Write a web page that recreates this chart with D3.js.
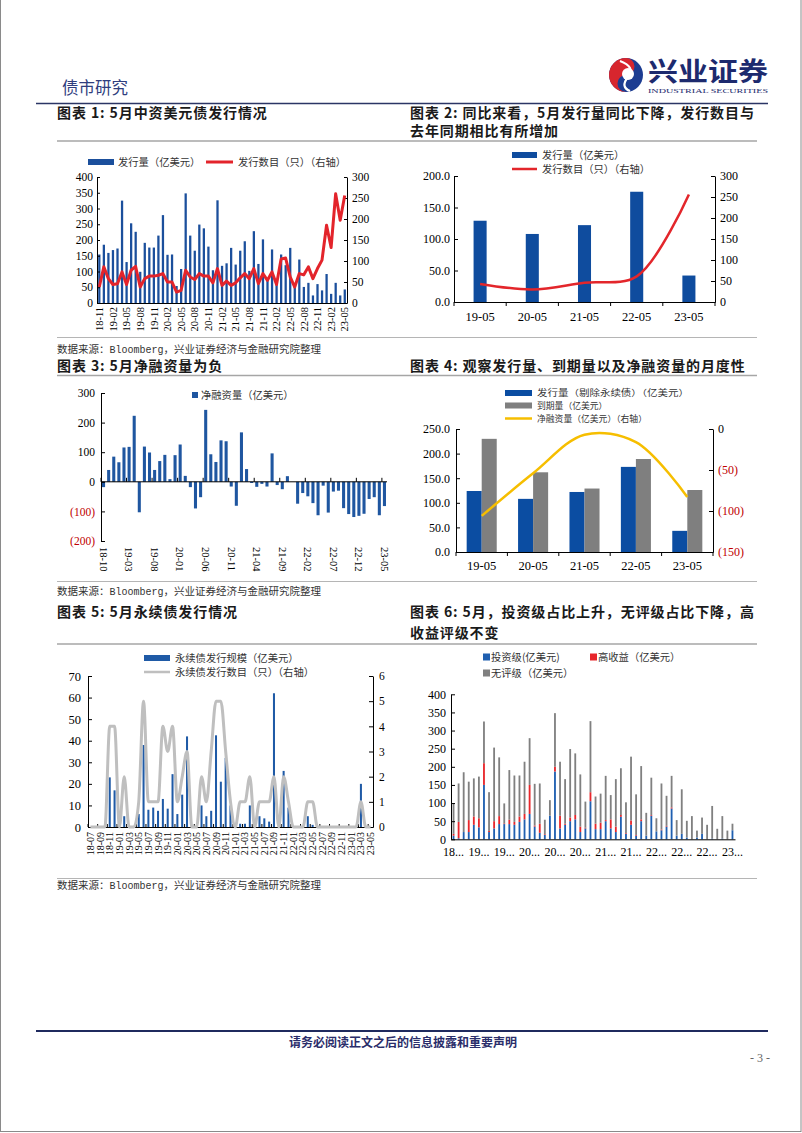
<!DOCTYPE html>
<html><head><meta charset="utf-8">
<script src="https://cdn.jsdelivr.net/npm/d3@7"></script>
<style>
body{margin:0;background:#fff;}
</style></head><body>
<svg id="page" width="802" height="1133" xmlns="http://www.w3.org/2000/svg"></svg>
<script>
// ---------------- DATA ----------------
const monthsAll = ["18-07","18-08","18-09","18-10","18-11","18-12",
 "19-01","19-02","19-03","19-04","19-05","19-06","19-07","19-08","19-09","19-10","19-11","19-12",
 "20-01","20-02","20-03","20-04","20-05","20-06","20-07","20-08","20-09","20-10","20-11","20-12",
 "21-01","21-02","21-03","21-04","21-05","21-06","21-07","21-08","21-09","21-10","21-11","21-12",
 "22-01","22-02","22-03","22-04","22-05","22-06","22-07","22-08","22-09","22-10","22-11","22-12",
 "23-01","23-02","23-03","23-04","23-05"];
const months56 = monthsAll.slice(3);   // 18-10 .. 23-05
const months55 = monthsAll.slice(4);   // 18-11 .. 23-05

// Chart 1
const issue1 = [154,185,159,168,173,325,130,253,226,99,191,176,176,214,279,153,154,54,108,348,
 214,166,249,237,179,104,326,118,126,175,122,166,196,102,228,124,202,73,170,58,
 154,120,175,53,138,51,64,24,60,40,92,29,64,24,43];
const count1 = [38,86,58,44,46,74,44,78,87,38,58,64,64,66,70,50,50,26,30,78,
 62,56,70,64,64,48,82,42,52,42,48,60,70,58,82,46,70,54,74,44,
 105,107,62,38,70,67,86,58,82,102,185,132,260,197,256];
const xTicks1 = ["18-11","19-02","19-05","19-08","19-11","20-02","20-05","20-08","20-11","21-02",
 "21-05","21-08","21-11","22-02","22-05","22-08","22-11","23-02","23-05"];
const yTicks1L = [0,50,100,150,200,250,300,350,400];
const yTicks1R = [0,50,100,150,200,250,300];

// Chart 2
const years = ["19-05","20-05","21-05","22-05","23-05"];
const issue2 = [129,108,122,175,42];
const count2 = [43,30,46,61,256];
const yTicks2L = [0,50,100,150,200];
const yTicks2R = [0,50,100,150,200,250,300];

// Chart 3
const net3 = [-18,40,85,66,116,118,223,-103,119,99,40,70,91,9,90,126,20,-18,-90,-52,
 243,93,67,140,137,-16,-81,167,43,-4,-17,-7,-16,96,-11,-25,19,0,-74,-38,
 -49,-72,-113,-13,-104,-33,-30,-89,-109,-119,-115,-108,-58,-52,-113,-82];
const xTicks3 = ["18-10","19-03","19-08","20-01","20-06","20-11","21-04","21-09","22-02","22-07","22-12","23-05"];
const yTicks3 = [-200,-100,0,100,200,300];

// Chart 4
const issue4 = [124,108,122,173,43];
const mature4 = [230,162,129,189,126];
const net4 = [-106,-54,-7,-16,-83];
const yTicks4L = [0,50,100,150,200,250];
const yTicks4R = [-150,-100,-50,0];

// Chart 5
const perpAmt = [0,0,0,0,23,17,0,5,0,0, 6,38,8,9,7.5,13,8.5,24.5,6,15,
 42,0,0,10,5,7.5,42.5,21,32,10, 0,1.5,1.5,10,0,5,4,2.5,62,0,
 26,9,0,0,0,5,1,0,0,0, 0,0,0,0,0,0,20,0,0];
const perpCnt = [0,0,0,0,4,4,0,2,0,0, 1,5,1,1,1,4,3,4,1,2,
 3,0,0,2,1,3,5,5,3,1, 0,1,1,2,0,1,1,1,2,0,
 2,1,0,0,0,1,1,0,0,0, 0,0,0,0,0,0,1,0,0];
const xTicks5 = ["18-07","18-09","18-11","19-01","19-03","19-05","19-07","19-09","19-11","20-01",
 "20-03","20-05","20-07","20-09","20-11","21-01","21-03","21-05","21-07","21-09",
 "21-11","22-01","22-03","22-05","22-07","22-09","22-11","23-01","23-03","23-05"];
const yTicks5L = [0,10,20,30,40,50,60,70];
const yTicks5R = [0,1,2,3,4,5,6];

// Chart 6
const ig6 = [10,3,20,20,40,33,150,20,30,42, 42,42,40,48,55,70,35,18,12,65,
 187,30,40,50,55,20,30,105,28,28, 50,30,20,62,15,40,10,50,10,65,
 22,25,35,85,10,15,5,0,5,15, 0,2,0,2,0,25];
const hy6 = [5,45,0,33,23,25,60,3,20,22, 2,12,8,15,15,80,3,25,2,0,
 13,35,3,10,12,15,2,25,15,18, 3,25,15,5,2,12,2,5,0,2,
 0,2,2,3,0,0,0,0,0,0, 0,0,0,0,0,0];
const nr6 = [84,106,165,106,105,115,115,107,203,162, 55,137,128,113,144,129,115,111,40,43,
 148,149,123,189,170,144,72,196,75,80, 122,67,131,129,85,176,112,147,63,103,
 36,127,83,87,43,123,46,64,19,45, 40,90,29,62,24,18];
const yTicks6 = [0,50,100,150,200,250,300,350,400];

// ---------------- STYLE ----------------
const SERIF = '"Liberation Serif","Times New Roman",serif';
const CJK = '"Noto Sans CJK SC","Noto Sans",sans-serif';
const MONO = '"Liberation Mono",monospace';
const NEG = "#C00000";

const svg = d3.select("#page");

function styleAxis(g, fs, colorFn) {
  g.attr("font-family", null).attr("font-size", null);
  g.select(".domain").attr("stroke", "#000").attr("stroke-width", 1);
  g.selectAll(".tick line").attr("stroke", "#000");
  g.selectAll(".tick text").attr("font-family", SERIF).attr("font-size", fs)
    .attr("fill", colorFn || "#000");
}
function txt(x, y, s, opt = {}) {
  const t = svg.append("text").attr("x", x).attr("y", y).text(s)
    .attr("font-family", opt.ff || CJK).attr("font-size", opt.fs || 10.3)
    .attr("fill", opt.fill || "#333");
  if (opt.fw) t.attr("font-weight", opt.fw);
  if (opt.ls) t.attr("letter-spacing", opt.ls);
  if (opt.anchor) t.attr("text-anchor", opt.anchor);
  if (opt.tl) t.attr("textLength", opt.tl).attr("lengthAdjust", "spacingAndGlyphs");
  return t;
}
function hline(x1, x2, y, color, w) {
  svg.append("line").attr("x1", x1).attr("x2", x2).attr("y1", y).attr("y2", y)
    .attr("stroke", color).attr("stroke-width", w);
}
function legRect(x, y, w, h, color) {
  svg.append("rect").attr("x", x).attr("y", y - h / 2).attr("width", w).attr("height", h).attr("fill", color);
}
function legLine(x, y, w, color, sw) {
  svg.append("line").attr("x1", x).attr("x2", x + w).attr("y1", y).attr("y2", y)
    .attr("stroke", color).attr("stroke-width", sw);
}

// ---------------- PAGE ----------------
svg.append("rect").attr("x", 0.5).attr("y", -3).attr("width", 800.5).attr("height", 1134.5)
  .attr("fill", "none").attr("stroke", "#8a8a8a").attr("stroke-width", 1);

txt(62, 94, "债市研究", {fs: 16.5, fill: "#2f3e7e"});
// logo
{
  const cx = 626, cy = 75, r = 17;
  const lg = svg.append("g");
  lg.append("circle").attr("cx", cx).attr("cy", cy).attr("r", r).attr("fill", "#1d3d92");
  lg.append("path").attr("d", `M${cx},${cy - r} A${r},${r} 0 0,0 ${cx},${cy + r} A${r / 2},${r / 2} 0 0,1 ${cx},${cy} A${r / 2},${r / 2} 0 0,0 ${cx},${cy - r}Z`)
    .attr("fill", "#d7262e");
  lg.append("circle").attr("cx", cx + 2).attr("cy", cy - 1).attr("r", 6).attr("fill", "#fff");
  lg.append("path").attr("d", `M${cx - 6},${cy - 14} Q${cx + 10},${cy - 8} ${cx + 2},${cy + 2} T${cx + 4},${cy + 16}`)
    .attr("fill", "none").attr("stroke", "#fff").attr("stroke-width", 2.2);
}
txt(648, 81, "兴业证券", {fs: 26, fw: "bold", fill: "#1d2a6e", tl: 120});
txt(648, 93, "INDUSTRIAL SECURITIES", {ff: SERIF, fs: 7, fill: "#1d2a6e", tl: 120});
hline(36, 768, 103.5, "#2b3565", 1.6);

// titles
const TT = {fs: 14, fw: "bold", fill: "#1a1a1a", ls: 0.9};
txt(57, 118, "图表 1: 5月中资美元债发行情况", TT);
txt(410, 118, "图表 2: 同比来看，5月发行量同比下降，发行数目与", TT);
txt(410, 136, "去年同期相比有所增加", TT);
hline(57, 757, 141, "#a6a6a6", 1.6);
txt(57, 371, "图表 3: 5月净融资量为负", TT);
txt(410, 371, "图表 4: 观察发行量、到期量以及净融资量的月度性", TT);
hline(57, 757, 375.5, "#a6a6a6", 1.6);
txt(57, 617, "图表 5: 5月永续债发行情况", TT);
txt(410, 617, "图表 6: 5月，投资级占比上升，无评级占比下降，高", TT);
txt(410, 638, "收益评级不变", TT);
hline(57, 757, 644, "#a6a6a6", 1.6);

// data sources
function source(y, ly) {
  hline(57, 757, ly, "#b5b5b5", 1);
  const t = svg.append("text").attr("x", 57).attr("y", y).attr("font-size", 10.5).attr("fill", "#333").attr("font-family", CJK);
  t.append("tspan").text("数据来源：");
  t.append("tspan").attr("font-family", MONO).attr("font-size", 10).text("Bloomberg");
  t.append("tspan").text("，兴业证券经济与金融研究院整理");
}
source(353, 337.5);
source(595, 581.5);
source(889, 878.5);

// footer
hline(36, 768, 1031, "#1f2a5e", 2);
txt(403, 1047, "请务必阅读正文之后的信息披露和重要声明", {fs: 12, fw: "bold", fill: "#2a2d6a", anchor: "middle"});
txt(770, 1062, "- 3 -", {ff: SERIF, fs: 12, fill: "#666", anchor: "end"});

// ---------------- CHART 1 ----------------
{
  const x = d3.scaleBand().domain(months55).range([97, 347]);
  const bw = x.bandwidth();
  const yL = d3.scaleLinear().domain([0, 400]).range([303, 177]);
  const yR = d3.scaleLinear().domain([0, 300]).range([303, 177]);
  const g = svg.append("g");
  g.selectAll("rect").data(issue1).join("rect")
    .attr("x", (d, i) => x(months55[i]) + bw * 0.26).attr("width", bw * 0.5)
    .attr("y", d => yL(d)).attr("height", d => yL(0) - yL(d)).attr("fill", "#1b4f9c");
  const aL = svg.append("g").attr("transform", "translate(97,0)")
    .call(d3.axisLeft(yL).tickValues(yTicks1L).tickSize(-3).tickSizeOuter(0).tickPadding(4));
  styleAxis(aL, 11.5);
  const aR = svg.append("g").attr("transform", "translate(347,0)")
    .call(d3.axisRight(yR).tickValues(yTicks1R).tickSize(-3).tickSizeOuter(0).tickPadding(5));
  styleAxis(aR, 11.5);
  const aB = svg.append("g").attr("transform", "translate(0,303)")
    .call(d3.axisBottom(x).tickValues(xTicks1).tickSize(0).tickSizeOuter(0));
  styleAxis(aB, 10.5);
  aB.selectAll(".tick text").attr("transform", "rotate(-90)").attr("text-anchor", "end")
    .attr("x", -4).attr("y", 0).attr("dy", "0.35em");
  svg.append("path").datum(count1)
    .attr("d", d3.line().x((d, i) => x(months55[i]) + bw / 2).y(d => yR(d)))
    .attr("fill", "none").attr("stroke", "#e3242b").attr("stroke-width", 3).attr("stroke-linejoin", "round");
  legRect(88, 162, 26, 6, "#1b4f9c");
  txt(118, 166, "发行量（亿美元）");
  legLine(206, 162, 27, "#e3242b", 3);
  txt(238, 166, "发行数目（只）（右轴）");
}

// ---------------- CHART 2 ----------------
{
  const x = d3.scaleBand().domain(years).range([454, 715]);
  const bw = x.bandwidth();
  const yL = d3.scaleLinear().domain([0, 200]).range([302, 176]);
  const yR = d3.scaleLinear().domain([0, 300]).range([302, 176]);
  svg.append("g").selectAll("rect").data(issue2).join("rect")
    .attr("x", (d, i) => x(years[i]) + bw * 0.375).attr("width", bw * 0.25)
    .attr("y", d => yL(d)).attr("height", d => yL(0) - yL(d)).attr("fill", "#0f4c9e");
  const aL = svg.append("g").attr("transform", "translate(454,0)")
    .call(d3.axisLeft(yL).tickValues(yTicks2L).tickFormat(d3.format(".1f")).tickSize(-4).tickSizeOuter(0).tickPadding(4));
  styleAxis(aL, 12);
  const aR = svg.append("g").attr("transform", "translate(715,0)")
    .call(d3.axisRight(yR).tickValues(yTicks2R).tickSize(-4).tickSizeOuter(0).tickPadding(5));
  styleAxis(aR, 12);
  const aB = svg.append("g").attr("transform", "translate(0,302)")
    .call(d3.axisBottom(x).tickSize(0).tickSizeOuter(0).tickPadding(10));
  styleAxis(aB, 12.5);
  years.forEach(c => svg.append("line").attr("x1", x(c)).attr("x2", x(c)).attr("y1", 302).attr("y2", 306).attr("stroke", "#000"));
  svg.append("line").attr("x1", 715).attr("x2", 715).attr("y1", 302).attr("y2", 306).attr("stroke", "#000");
  svg.append("path").datum(count2)
    .attr("d", d3.line().curve(d3.curveCatmullRom).x((d, i) => x(years[i]) + bw / 2).y(d => yR(d)))
    .attr("fill", "none").attr("stroke", "#e3262b").attr("stroke-width", 2.5);
  legRect(512, 155, 25, 6, "#0f4c9e");
  txt(542, 159, "发行量（亿美元）");
  legLine(512, 169, 25, "#e3262b", 2.5);
  txt(542, 173, "发行数目（只）（右轴）");
}

// ---------------- CHART 3 ----------------
{
  const x = d3.scaleBand().domain(months56).range([101, 387]);
  const bw = x.bandwidth();
  const y = d3.scaleLinear().domain([-200, 300]).range([541, 393]);
  svg.append("g").selectAll("rect").data(net3).join("rect")
    .attr("x", (d, i) => x(months56[i]) + bw * 0.2).attr("width", bw * 0.6)
    .attr("y", d => y(Math.max(0, d))).attr("height", d => Math.abs(y(d) - y(0))).attr("fill", "#1f56a0");
  const aL = svg.append("g").attr("transform", "translate(101,0)")
    .call(d3.axisLeft(y).tickValues(yTicks3).tickFormat(d => d < 0 ? `(${-d})` : d).tickSize(-4).tickSizeOuter(0).tickPadding(6));
  styleAxis(aL, 11.5, d => d < 0 ? NEG : "#000");
  svg.append("line").attr("x1", 101).attr("x2", 387).attr("y1", y(0)).attr("y2", y(0)).attr("stroke", "#000");
  xTicks3.forEach(c => svg.append("line").attr("x1", x(c)).attr("x2", x(c)).attr("y1", y(0)).attr("y2", y(0) - 4).attr("stroke", "#000"));
  const aB = svg.append("g").attr("transform", "translate(0,543)")
    .call(d3.axisBottom(x).tickValues(xTicks3).tickSize(0).tickSizeOuter(0));
  aB.select(".domain").remove();
  styleAxis(aB, 10.5);
  aB.selectAll(".tick text").attr("transform", "rotate(90)").attr("text-anchor", "start")
    .attr("x", 4).attr("y", 0).attr("dy", "0.35em");
  legRect(192, 395, 6, 6, "#1f56a0");
  txt(201, 399, "净融资量（亿美元）");
}

// ---------------- CHART 4 ----------------
{
  const x = d3.scaleBand().domain(years).range([456, 713]);
  const bw = x.bandwidth();
  const xi = d3.scaleBand().domain(["issue", "mature"]).range([0, bw]).paddingInner(0).paddingOuter(0.71);
  const yL = d3.scaleLinear().domain([0, 250]).range([552, 429]);
  const yR = d3.scaleLinear().domain([-150, 0]).range([552, 429]);
  const g = svg.append("g");
  g.selectAll("rect.i").data(issue4).join("rect").attr("class", "i")
    .attr("x", (d, i) => x(years[i]) + xi("issue")).attr("width", xi.bandwidth())
    .attr("y", d => yL(d)).attr("height", d => yL(0) - yL(d)).attr("fill", "#0b4da2");
  g.selectAll("rect.m").data(mature4).join("rect").attr("class", "m")
    .attr("x", (d, i) => x(years[i]) + xi("mature")).attr("width", xi.bandwidth())
    .attr("y", d => yL(d)).attr("height", d => yL(0) - yL(d)).attr("fill", "#7f7f7f");
  const aL = svg.append("g").attr("transform", "translate(456,0)")
    .call(d3.axisLeft(yL).tickValues(yTicks4L).tickFormat(d3.format(".1f")).tickSize(-4).tickSizeOuter(0).tickPadding(6));
  styleAxis(aL, 12);
  const aR = svg.append("g").attr("transform", "translate(713,0)")
    .call(d3.axisRight(yR).tickValues(yTicks4R).tickFormat(d => d < 0 ? `(${-d})` : d).tickSize(-4).tickSizeOuter(0).tickPadding(5));
  styleAxis(aR, 12, d => d < 0 ? NEG : "#000");
  const aB = svg.append("g").attr("transform", "translate(0,552)")
    .call(d3.axisBottom(x).tickSize(0).tickSizeOuter(0).tickPadding(9.5));
  styleAxis(aB, 12.5);
  years.forEach(c => svg.append("line").attr("x1", x(c)).attr("x2", x(c)).attr("y1", 552).attr("y2", 556).attr("stroke", "#000"));
  svg.append("line").attr("x1", 713).attr("x2", 713).attr("y1", 552).attr("y2", 556).attr("stroke", "#000");
  svg.append("path").datum(net4)
    .attr("d", d3.line().curve(d3.curveCatmullRom).x((d, i) => x(years[i]) + bw / 2).y(d => yR(d)))
    .attr("fill", "none").attr("stroke", "#f6be00").attr("stroke-width", 2.5);
  const LF = {fs: 8.8};
  legRect(505, 393, 27, 6, "#0b4da2");
  txt(537, 396.2, "发行量（剔除永续债）（亿美元）", {fs: 8.8, tl: 152});
  legRect(505, 405.5, 27, 6, "#7f7f7f");
  txt(537, 408.7, "到期量（亿美元）", LF);
  legLine(505, 418.5, 27, "#f6be00", 2.5);
  txt(537, 421.7, "净融资量（亿美元）（右轴）", LF);
}

// ---------------- CHART 5 ----------------
{
  const x = d3.scaleBand().domain(monthsAll).range([88, 373]);
  const bw = x.bandwidth();
  const yL = d3.scaleLinear().domain([0, 70]).range([827, 676]);
  const yR = d3.scaleLinear().domain([0, 6]).range([827, 676]);
  svg.append("g").selectAll("rect").data(perpAmt).join("rect")
    .attr("x", (d, i) => x(monthsAll[i]) + bw * 0.29).attr("width", bw * 0.42)
    .attr("y", d => yL(d)).attr("height", d => yL(0) - yL(d)).attr("fill", "#1f5aa6");
  const aL = svg.append("g").attr("transform", "translate(88,0)")
    .call(d3.axisLeft(yL).tickValues(yTicks5L).tickSize(-4).tickSizeOuter(0).tickPadding(7));
  styleAxis(aL, 12.5);
  const aR = svg.append("g").attr("transform", "translate(373,0)")
    .call(d3.axisRight(yR).tickValues(yTicks5R).tickFormat(d3.format("d")).tickSize(-4).tickSizeOuter(0).tickPadding(6));
  styleAxis(aR, 11.5);
  const aB = svg.append("g").attr("transform", "translate(0,827)")
    .call(d3.axisBottom(x).tickValues(xTicks5).tickSize(0).tickSizeOuter(0));
  styleAxis(aB, 10);
  aB.selectAll(".tick text").attr("transform", "rotate(-90)").attr("text-anchor", "end")
    .attr("x", -5).attr("y", 0).attr("dy", "0.35em");
  xTicks5.forEach(c => svg.append("line").attr("x1", x(c)).attr("x2", x(c)).attr("y1", 827).attr("y2", 824).attr("stroke", "#000"));
  svg.append("path").datum(perpCnt)
    .attr("d", d3.line().curve(d3.curveMonotoneX).x((d, i) => x(monthsAll[i]) + bw / 2).y(d => yR(d)))
    .attr("fill", "none").attr("stroke", "#bfbfbf").attr("stroke-width", 3);
  legRect(144, 658, 26, 6, "#1f5aa6");
  txt(175, 662, "永续债发行规模（亿美元）");
  legLine(144, 672, 26, "#bfbfbf", 2.5);
  txt(175, 676, "永续债发行数目（只）（右轴）");
}

// ---------------- CHART 6 ----------------
{
  const rows = months56.map((m, i) => ({m, ig: ig6[i], hy: hy6[i], nr: nr6[i]}));
  const keys = ["ig", "hy", "nr"];
  const colors = {ig: "#1f5fb0", hy: "#e8262b", nr: "#808080"};
  const stack = d3.stack().keys(keys)(rows);
  const x = d3.scaleBand().domain(months56).range([451, 735]);
  const bw = x.bandwidth();
  const y = d3.scaleLinear().domain([0, 400]).range([839.3, 694.3]);
  svg.append("g").selectAll("g").data(stack).join("g").attr("fill", s => colors[s.key])
    .selectAll("rect").data(s => s).join("rect")
    .attr("x", d => x(d.data.m) + bw * 0.32).attr("width", bw * 0.36)
    .attr("y", d => y(d[1])).attr("height", d => y(d[0]) - y(d[1]));
  const aL = svg.append("g").attr("transform", "translate(451,0)")
    .call(d3.axisLeft(y).tickValues(yTicks6).tickSize(-4).tickSizeOuter(0).tickPadding(5));
  styleAxis(aL, 12);
  const aB = svg.append("g").attr("transform", "translate(0,839.3)")
    .call(d3.axisBottom(x).tickValues(xTicks3).tickFormat(d => d.slice(0, 2) + "...").tickSize(0).tickSizeOuter(0).tickPadding(8));
  styleAxis(aB, 12);
  legRect(483, 657, 7, 7, colors.ig);
  txt(491, 661, "投资级(亿美元)");
  legRect(590, 657, 7, 7, colors.hy);
  txt(598, 661, "高收益（亿美元）");
  legRect(483, 673, 7, 7, colors.nr);
  txt(491, 677, "无评级（亿美元）");
}
</script>
</body></html>
